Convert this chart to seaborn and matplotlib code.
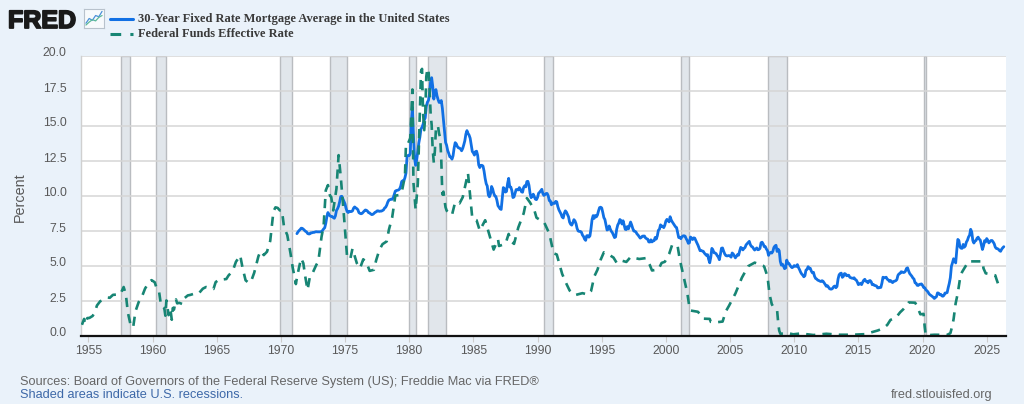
import numpy as np
import pandas as pd
import matplotlib
matplotlib.use("Agg")
import matplotlib.pyplot as plt
import matplotlib.transforms as mtransforms
import matplotlib.patheffects as pe
from matplotlib.lines import Line2D
import seaborn as sns

# 30-year fixed mortgage rate, monthly, Apr 1971 onwards
mort_1970s = [7.31, 7.43, 7.53, 7.60, 7.70, 7.69, 7.63, 7.55, 7.48,
              7.44, 7.32, 7.29, 7.29, 7.37, 7.37, 7.40, 7.40, 7.43, 7.45, 7.44, 7.44,
              7.44, 7.44, 7.46, 7.54, 7.65, 7.73, 8.05, 8.50, 8.82, 8.67, 8.58, 8.54,
              8.54, 8.46, 8.41, 8.58, 8.97, 9.09, 9.28, 9.59, 9.96, 9.98, 9.79, 9.62,
              9.43, 9.10, 8.89, 8.82, 8.91, 8.89, 8.89, 8.94, 9.13, 9.22, 9.15, 9.10,
              9.02, 8.81, 8.76, 8.73, 8.76, 8.85, 8.93, 9.00, 8.98, 8.92, 8.81, 8.79,
              8.72, 8.67, 8.69, 8.75, 8.83, 8.86, 8.94, 8.94, 8.90, 8.92, 8.92, 8.96,
              9.01, 9.14, 9.20, 9.35, 9.57, 9.71, 9.74, 9.78, 9.76, 9.86, 10.11, 10.35,
              10.39, 10.41, 10.43, 10.50, 10.69, 11.04, 11.09, 11.09, 11.30, 11.64, 12.83, 12.90]
mort_1980s = [12.88, 13.04, 15.28, 16.32, 14.26, 12.71, 12.19, 12.56, 13.20, 13.79, 14.21, 14.79,
              14.90, 15.13, 15.40, 15.58, 16.40, 16.70, 16.83, 17.29, 18.16, 18.45, 17.83, 16.92,
              17.40, 17.60, 17.16, 16.89, 16.68, 16.70, 16.82, 16.27, 15.43, 14.61, 13.83, 13.62,
              13.25, 13.04, 12.80, 12.78, 12.63, 12.87, 13.42, 13.81, 13.73, 13.54, 13.44, 13.42,
              13.37, 13.23, 13.39, 13.65, 13.94, 14.42, 14.67, 14.47, 14.35, 14.13, 13.64, 13.18,
              13.08, 12.92, 13.17, 13.20, 12.91, 12.22, 12.03, 12.19, 12.19, 12.14, 11.78, 11.26,
              10.88, 10.71, 10.08, 9.94, 10.14, 10.68, 10.51, 10.20, 10.01, 9.97, 9.70, 9.31,
              9.20, 9.08, 9.04, 9.83, 10.60, 10.54, 10.28, 10.33, 10.89, 11.26, 10.65, 10.64,
              10.38, 9.89, 9.93, 10.20, 10.46, 10.46, 10.43, 10.60, 10.48, 10.30, 10.27, 10.61,
              10.73, 10.65, 11.03, 11.05, 10.77, 10.20, 9.88, 9.99, 10.13, 9.95, 9.77, 9.74]
mort_1990s = [9.90, 10.20, 10.27, 10.37, 10.48, 10.16, 10.04, 10.10, 10.18, 10.18, 10.01, 9.67,
              9.64, 9.37, 9.50, 9.49, 9.47, 9.62, 9.58, 9.24, 9.01, 8.86, 8.71, 8.50,
              8.43, 8.76, 8.94, 8.85, 8.67, 8.51, 8.13, 7.98, 7.92, 8.09, 8.31, 8.22,
              8.02, 7.68, 7.50, 7.47, 7.47, 7.42, 7.21, 7.11, 6.92, 6.83, 7.16, 7.17,
              7.06, 7.15, 7.68, 8.32, 8.60, 8.40, 8.61, 8.51, 8.64, 8.93, 9.17, 9.20,
              9.15, 8.83, 8.46, 8.32, 7.96, 7.57, 7.61, 7.86, 7.64, 7.48, 7.38, 7.20,
              7.03, 7.08, 7.62, 7.93, 8.07, 8.32, 8.25, 8.00, 8.23, 7.92, 7.62, 7.60,
              7.82, 7.65, 7.90, 8.14, 7.94, 7.69, 7.50, 7.48, 7.43, 7.29, 7.21, 7.10,
              6.99, 7.04, 7.13, 7.14, 7.14, 7.00, 6.95, 6.92, 6.72, 6.71, 6.87, 6.72,
              6.79, 6.81, 7.04, 6.92, 7.15, 7.55, 7.63, 7.94, 7.82, 7.85, 7.74, 7.91]
mort_2000s = [8.21, 8.33, 8.24, 8.15, 8.52, 8.29, 8.15, 8.03, 7.91, 7.80, 7.75, 7.38,
              7.03, 7.05, 6.95, 7.08, 7.15, 7.16, 7.13, 6.95, 6.82, 6.62, 6.66, 7.07,
              7.00, 6.89, 7.01, 6.99, 6.81, 6.65, 6.49, 6.29, 6.09, 6.11, 6.07, 6.05,
              5.92, 5.84, 5.75, 5.81, 5.48, 5.23, 5.63, 6.26, 6.15, 5.95, 5.93, 5.88,
              5.74, 5.64, 5.45, 5.83, 6.27, 6.29, 6.06, 5.87, 5.75, 5.72, 5.73, 5.75,
              5.71, 5.63, 5.93, 5.86, 5.72, 5.58, 5.70, 5.82, 5.77, 6.07, 6.33, 6.27,
              6.15, 6.25, 6.32, 6.51, 6.60, 6.68, 6.76, 6.52, 6.40, 6.36, 6.24, 6.14,
              6.22, 6.29, 6.16, 6.18, 6.26, 6.66, 6.70, 6.57, 6.38, 6.38, 6.21, 6.10,
              5.76, 5.92, 5.97, 5.92, 6.04, 6.32, 6.43, 6.48, 6.04, 6.20, 6.09, 5.33,
              5.06, 5.13, 5.00, 4.81, 4.86, 5.42, 5.22, 5.19, 5.06, 4.95, 4.88, 4.93]
mort_2010s = [5.03, 4.99, 4.97, 5.10, 4.89, 4.74, 4.56, 4.43, 4.35, 4.23, 4.30, 4.71,
              4.76, 4.95, 4.84, 4.84, 4.64, 4.51, 4.55, 4.27, 4.11, 4.07, 3.99, 3.96,
              3.92, 3.89, 3.95, 3.91, 3.80, 3.68, 3.55, 3.60, 3.50, 3.38, 3.35, 3.35,
              3.41, 3.53, 3.57, 3.45, 3.54, 4.07, 4.37, 4.46, 4.49, 4.19, 4.26, 4.46,
              4.43, 4.30, 4.34, 4.34, 4.19, 4.16, 4.13, 4.12, 4.16, 4.04, 4.00, 3.86,
              3.67, 3.71, 3.77, 3.67, 3.84, 3.98, 4.05, 3.91, 3.89, 3.80, 3.94, 3.96,
              3.87, 3.66, 3.69, 3.61, 3.60, 3.57, 3.44, 3.44, 3.46, 3.47, 3.77, 4.20,
              4.15, 4.17, 4.20, 4.05, 4.01, 3.90, 3.97, 3.88, 3.81, 3.90, 3.92, 3.95,
              4.03, 4.33, 4.44, 4.47, 4.59, 4.57, 4.53, 4.55, 4.63, 4.83, 4.87, 4.64,
              4.46, 4.37, 4.27, 4.14, 4.07, 3.80, 3.77, 3.62, 3.61, 3.69, 3.70, 3.72]
mort_2020s = [3.62, 3.47, 3.45, 3.31, 3.23, 3.16, 3.02, 2.94, 2.89, 2.83, 2.77, 2.68,
              2.74, 2.81, 3.08, 3.06, 2.96, 2.98, 2.87, 2.84, 2.90, 3.07, 3.07, 3.10,
              3.45, 3.76, 4.17, 4.98, 5.23, 5.52, 5.41, 5.22, 6.11, 6.90, 6.81, 6.36,
              6.27, 6.26, 6.54, 6.34, 6.43, 6.71, 6.84, 7.07, 7.20, 7.62, 7.44, 6.82,
              6.64, 6.78, 6.82, 6.99, 7.06, 6.92, 6.85, 6.50, 6.18, 6.43, 6.81, 6.72,
              6.96, 6.84, 6.65, 6.73, 6.82, 6.82, 6.72, 6.59, 6.35, 6.25, 6.24, 6.19,
              6.10, 6.05, 6.20, 6.30, 6.38]

# Federal funds effective rate (year, percent)
ff_year_early = [1954.50, 1954.67, 1954.75, 1954.92, 1955.08, 1955.33, 1955.50, 1955.67, 1955.92,
                 1956.25, 1956.50, 1956.67, 1956.92, 1957.25, 1957.50, 1957.75, 1957.92, 1958.08,
                 1958.33, 1958.50, 1958.67, 1958.92, 1959.17, 1959.42, 1959.67, 1959.92, 1960.17,
                 1960.33, 1960.50, 1960.67, 1960.92, 1961.00, 1961.08, 1961.17, 1961.25, 1961.33,
                 1961.42, 1961.50, 1961.58, 1961.67, 1961.75, 1961.83, 1961.92, 1962.08, 1962.33,
                 1962.50, 1962.75, 1962.92, 1963.17, 1963.42, 1963.58, 1963.92, 1964.17, 1964.50,
                 1964.75, 1964.92, 1965.25, 1965.50, 1965.75, 1965.92, 1966.25, 1966.50, 1966.67,
                 1966.83, 1967.00, 1967.25, 1967.50, 1967.67, 1967.92, 1968.25, 1968.42, 1968.67,
                 1968.92, 1969.17, 1969.42, 1969.58, 1969.75, 1969.92, 1970.08, 1970.25, 1970.50,
                 1970.75, 1970.92, 1971.17, 1971.25, 1971.42, 1971.58, 1971.75, 1971.92, 1972.08,
                 1972.25, 1972.50, 1972.75, 1972.92, 1973.17, 1973.33, 1973.50, 1973.67, 1973.83,
                 1973.92, 1974.08, 1974.33, 1974.50, 1974.67, 1974.92, 1975.17, 1975.42, 1975.58,
                 1975.92, 1976.17, 1976.42, 1976.67, 1976.92, 1977.25, 1977.42, 1977.67, 1977.92,
                 1978.25, 1978.42, 1978.67, 1978.92, 1979.17, 1979.42, 1979.67, 1979.75, 1979.92]
ff_rate_early = [0.80, 1.22, 0.85, 1.28, 1.29, 1.43, 1.68, 2.18, 2.48,
                 2.62, 2.75, 2.73, 2.94, 2.96, 3.00, 3.50, 2.98, 1.67,
                 0.63, 0.68, 1.76, 2.42, 2.80, 3.39, 3.76, 3.99, 3.84,
                 3.39, 3.23, 2.14, 1.98, 1.45, 2.54, 2.02, 1.49, 1.98,
                 1.73, 1.16, 2.00, 1.88, 2.26, 2.61, 2.33, 2.37, 2.28,
                 2.71, 2.90, 2.93, 3.00, 2.99, 3.02, 3.38, 3.50, 3.42,
                 3.36, 3.85, 4.07, 4.04, 4.07, 4.32, 4.65, 5.30, 5.53,
                 5.76, 4.94, 3.98, 3.79, 3.88, 4.51, 5.69, 6.07, 5.78,
                 6.02, 6.79, 8.90, 9.19, 9.15, 8.97, 8.98, 7.76, 7.21,
                 5.91, 4.90, 3.71, 4.15, 4.91, 5.55, 5.20, 4.14, 3.29,
                 4.17, 4.55, 5.06, 5.33, 7.09, 7.84, 10.40, 10.78, 10.01,
                 9.95, 8.97, 10.51, 12.92, 11.34, 8.53, 5.54, 5.55, 6.24,
                 5.20, 4.84, 5.48, 5.25, 4.65, 4.73, 5.39, 6.14, 6.56,
                 6.76, 7.60, 8.45, 10.03, 10.06, 10.29, 11.43, 13.77, 13.78]
ff_year_late = [1980.08, 1980.25, 1980.33, 1980.50, 1980.67, 1980.83, 1980.92, 1981.00, 1981.08,
                1981.17, 1981.25, 1981.33, 1981.42, 1981.50, 1981.58, 1981.67, 1981.75, 1981.83,
                1981.92, 1982.00, 1982.08, 1982.17, 1982.25, 1982.33, 1982.42, 1982.50, 1982.58,
                1982.67, 1982.75, 1982.83, 1982.92, 1983.33, 1983.58, 1983.92, 1984.17, 1984.58,
                1984.92, 1985.25, 1985.50, 1985.92, 1986.17, 1986.58, 1986.92, 1987.00, 1987.50,
                1987.75, 1987.92, 1988.17, 1988.50, 1988.92, 1989.17, 1989.42, 1989.75, 1989.92,
                1990.25, 1990.50, 1990.92, 1991.25, 1991.50, 1991.92, 1992.25, 1992.50, 1992.92,
                1993.50, 1993.92, 1994.17, 1994.42, 1994.67, 1994.92, 1995.17, 1995.50, 1995.92,
                1996.17, 1996.50, 1996.92, 1997.25, 1997.92, 1998.42, 1998.75, 1998.92, 1999.42,
                1999.67, 1999.92, 2000.25, 2000.50, 2000.92, 2001.08, 2001.25, 2001.50, 2001.67,
                2001.83, 2001.92, 2002.50, 2002.83, 2002.92, 2003.42, 2003.50, 2003.92, 2004.42,
                2004.67, 2004.92, 2005.42, 2005.92, 2006.42, 2006.92, 2007.58, 2007.67, 2007.92,
                2008.08, 2008.25, 2008.42, 2008.67, 2008.75, 2008.83, 2008.92, 2009.50, 2009.92,
                2010.50, 2011.50, 2012.50, 2013.50, 2014.50, 2015.50, 2015.92, 2016.50, 2016.92,
                2017.25, 2017.50, 2017.92, 2018.25, 2018.50, 2018.75, 2018.92, 2019.42, 2019.58,
                2019.83, 2020.08, 2020.17, 2020.25, 2020.92, 2021.92, 2022.17, 2022.33, 2022.42,
                2022.58, 2022.75, 2022.92, 2023.08, 2023.42, 2023.58, 2024.67, 2024.75, 2024.92,
                2025.67, 2025.75, 2025.83, 2025.92, 2026.33]
ff_rate_late = [14.13, 17.61, 10.98, 9.03, 10.87, 15.85, 18.90, 19.08, 15.93,
                14.70, 15.72, 18.52, 19.10, 19.04, 17.82, 15.87, 15.08, 13.31,
                12.37, 13.22, 14.78, 14.68, 14.94, 14.45, 14.15, 12.59, 10.12,
                10.31, 9.71, 9.20, 8.95, 8.63, 9.56, 9.47, 9.91, 11.64,
                8.38, 8.27, 7.53, 8.27, 7.48, 6.17, 6.91, 6.43, 6.58,
                7.29, 6.77, 6.58, 7.75, 8.76, 9.85, 9.53, 8.99, 8.45,
                8.26, 8.15, 7.31, 5.91, 5.82, 4.43, 3.73, 3.25, 2.92,
                3.06, 2.96, 3.21, 4.25, 4.73, 5.45, 5.98, 5.85, 5.60,
                5.22, 5.40, 5.29, 5.64, 5.50, 5.56, 5.07, 4.68, 4.76,
                5.22, 5.30, 5.85, 6.54, 6.40, 5.49, 4.80, 3.77, 3.07,
                2.09, 1.82, 1.73, 1.34, 1.24, 1.22, 1.01, 0.98, 1.03,
                1.76, 2.16, 3.04, 4.16, 4.99, 5.24, 5.02, 4.94, 4.24,
                2.98, 2.28, 2.00, 1.81, 0.97, 0.39, 0.16, 0.21, 0.12,
                0.18, 0.07, 0.16, 0.09, 0.09, 0.13, 0.24, 0.39, 0.54,
                0.79, 1.15, 1.30, 1.69, 1.91, 2.19, 2.40, 2.38, 2.13,
                1.55, 1.58, 0.65, 0.05, 0.09, 0.08, 0.20, 0.77, 1.21,
                2.33, 3.08, 4.10, 4.57, 5.08, 5.33, 5.33, 4.83, 4.48,
                4.33, 4.09, 3.88, 3.64, 3.63]

# NBER recessions (start, end)
rec_start = [1957.58, 1960.25, 1969.92, 1973.83, 1980.00, 1981.50, 1990.50, 2001.17, 2007.92, 2020.08]
rec_end = [1958.25, 1961.08, 1970.83, 1975.17, 1980.50, 1982.83, 1991.17, 2001.83, 2009.42, 2020.25]

x_ticks = list(range(1955, 2030, 5))
y_ticks = [0.0, 2.5, 5.0, 7.5, 10.0, 12.5, 15.0, 17.5, 20.0]

blue = "#1170e4"
teal = "#178574"
bg = "#eaf2fa"
grey_txt = "#595959"

mort_vals = mort_1970s + mort_1980s + mort_1990s + mort_2000s + mort_2010s + mort_2020s
mort = pd.DataFrame({"year": 1971.25 + np.arange(len(mort_vals)) / 12, "rate": mort_vals})
ff = pd.DataFrame({"year": ff_year_early + ff_year_late, "rate": ff_rate_early + ff_rate_late})

sns.set_theme(style="white")
plt.rcParams["font.family"] = ["Liberation Sans", "DejaVu Sans"]

fig = plt.figure(figsize=(10.24, 4.04), dpi=100, facecolor=bg)
ax = fig.add_axes([81.3 / 1024, 68 / 404, 924.4 / 1024, 280 / 404])
ax.set_facecolor("white")

for s, e in zip(rec_start, rec_end):
    ax.axvspan(s, e, facecolor="#e1e6eb", edgecolor="#b9bcc0", lw=1.0, zorder=0.2)

sns.lineplot(data=mort, x="year", y="rate", ax=ax, color=blue, lw=2.0, zorder=3)
sns.lineplot(data=ff, x="year", y="rate", ax=ax, color=teal, lw=1.9, zorder=3)
ax.lines[-1].set_linestyle((0, (3.5, 2.7)))

ax.set_xlim(1954.45, 2026.48)
ax.set_ylim(0, 20)
ax.set_xticks(x_ticks)
ax.set_xticklabels([str(t) for t in x_ticks])
ax.set_yticks(y_ticks)
ax.set_yticklabels([f"{t:.1f}" for t in y_ticks])
ax.set_xlabel("")
ax.set_ylabel("")
ax.set_axisbelow(True)
ax.yaxis.grid(True, color="#d6d6d6", lw=1.1)
ax.xaxis.grid(False)

for sp in ["top", "right"]:
    ax.spines[sp].set_visible(False)
ax.spines["left"].set_color("#d0d0d0")
ax.spines["left"].set_linewidth(1.0)
ax.spines["bottom"].set_color("#111111")
ax.spines["bottom"].set_linewidth(1.6)
ax.spines["bottom"].set_zorder(5)

ax.tick_params(axis="y", length=0, pad=10.5, labelsize=8.8, labelcolor=grey_txt)
ax.tick_params(axis="x", length=4, width=0.8, color="#cccccc", pad=2.5,
               labelsize=8.8, labelcolor=grey_txt, bottom=True)

# FRED puts the y labels slightly above their gridlines
offset = mtransforms.ScaledTranslation(0, 4 / 100, fig.dpi_scale_trans)
for tick in ax.yaxis.get_major_ticks():
    tick.label1.set_transform(tick.label1.get_transform() + offset)

fig.text(19.6 / 1024, 1 - 196.7 / 404, "Percent", rotation=90, ha="center", va="center",
         fontsize=10.4, color=grey_txt)

# header: logo + legend
fig.text(8 / 1024, 1 - 28 / 404, "FRED", fontsize=18, fontweight="bold", color="#1a1a1a",
         ha="left", va="baseline",
         path_effects=[pe.withStroke(linewidth=1.3, foreground="#1a1a1a")])

icon_x = [0, 1, 2, 3, 4, 5]
icon_blue = [1.0, 2.6, 2.0, 3.6, 3.2, 5.0]
icon_green = [0.4, 1.4, 2.2, 1.8, 3.0, 3.6]
iax = fig.add_axes([84 / 1024, 1 - 28 / 404, 20 / 1024, 19 / 404])
iax.set_facecolor("#f7fafc")
iax.plot(icon_x, icon_blue, color="#4a90d9", lw=0.9)
iax.plot(icon_x, icon_green, color="#5cb89a", lw=0.9)
iax.set_xlim(-0.6, 5.6)
iax.set_ylim(-0.6, 5.8)
iax.set_xticks([])
iax.set_yticks([])
for sp in iax.spines.values():
    sp.set_color("#b8c2cc")
    sp.set_linewidth(0.8)

fig.add_artist(Line2D([110 / 1024, 133 / 1024], [1 - 19 / 404] * 2, transform=fig.transFigure,
                      color=blue, lw=2.2))
fig.add_artist(Line2D([110 / 1024, 133 / 1024], [1 - 34 / 404] * 2, transform=fig.transFigure,
                      color=teal, lw=2.2, ls=(0, (3.5, 3.0))))
legend_font = dict(family=["Liberation Serif", "DejaVu Serif"], fontweight="bold",
                   fontsize=9.0, color="#3a3a3a", ha="left", va="center")
fig.text(137.5 / 1024, 1 - 19 / 404, "30-Year Fixed Rate Mortgage Average in the United States",
         **legend_font)
fig.text(137.5 / 1024, 1 - 34 / 404, "Federal Funds Effective Rate", **legend_font)

# footer
fig.text(20 / 1024, 1 - 381.7 / 404,
         "Sources: Board of Governors of the Federal Reserve System (US); Freddie Mac via FRED®",
         fontsize=9.2, color="#666666", ha="left", va="center")
fig.text(20 / 1024, 1 - 395 / 404, "Shaded areas indicate U.S. recessions.",
         fontsize=9.2, color="#3d68a8", ha="left", va="center")
fig.text(992 / 1024, 1 - 395 / 404, "fred.stlouisfed.org",
         fontsize=9.2, color="#666666", ha="right", va="center")

fig.savefig("out.png", dpi=100, facecolor=bg)
